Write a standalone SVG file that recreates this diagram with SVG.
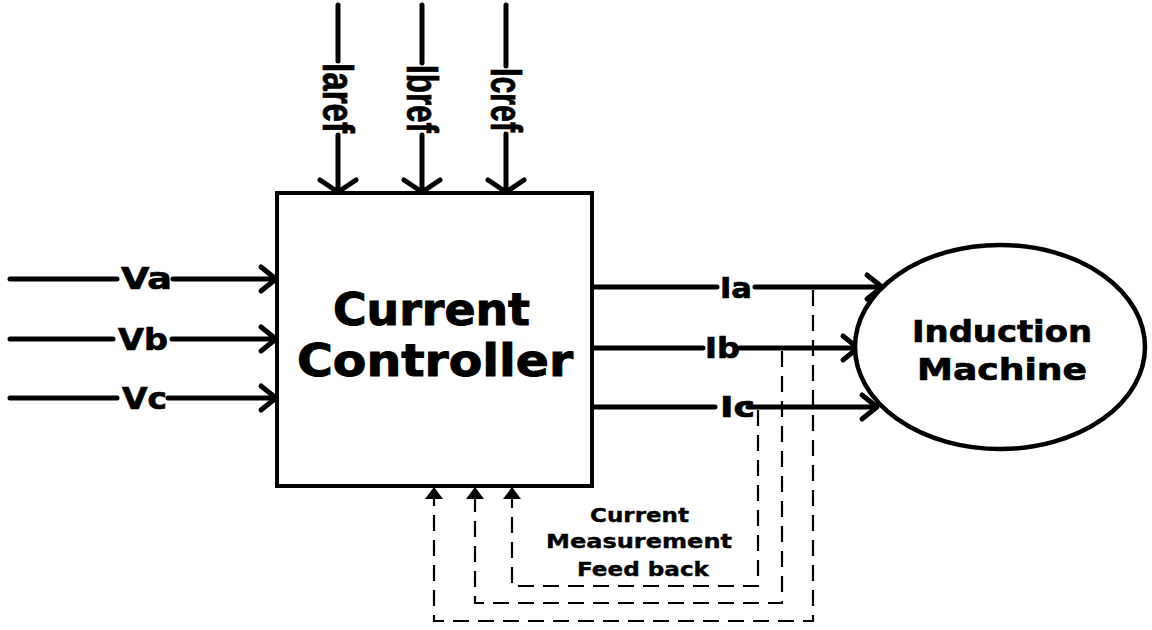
<svg xmlns="http://www.w3.org/2000/svg" xmlns:xlink="http://www.w3.org/1999/xlink" width="1152" height="630" viewBox="0 0 1152 630">
<style>
.ln{stroke:#000;stroke-width:5;stroke-linecap:round;fill:none}
.ch{stroke:#000;stroke-width:5;stroke-linecap:round;stroke-linejoin:round;fill:none}
.ds{stroke:#000;stroke-width:2.2;stroke-dasharray:16 9;fill:none}
.t{font-family:"DejaVu Sans","Verdana",sans-serif;font-weight:bold;fill:#000;stroke:#000;stroke-width:0.7}
.tv{font-family:"Liberation Sans","Arial",sans-serif;font-weight:bold;fill:#000;stroke:#000;stroke-width:0.8}
</style>
<defs>
<path id="chevH" d="M-15,-12 L0,0 L-15,12"/>
<path id="chevV" d="M-18,-12 L0,0 L18,-12"/>
<path id="triUp" d="M0,0 L9,12 L-9,12 Z"/>
</defs>
<rect width="1152" height="630" fill="#fff"/>

<g id="connectors">
  <!-- top reference inputs -->
  <path class="ln" d="M338,5 V61 M338,135 V191"/>
  <path class="ln" d="M422,5 V63 M422,135 V191"/>
  <path class="ln" d="M506,5 V66 M506,134 V191"/>
  <use href="#chevV" class="ch" x="338" y="192"/>
  <use href="#chevV" class="ch" x="422" y="192"/>
  <use href="#chevV" class="ch" x="506" y="192"/>
  <!-- voltage inputs -->
  <path class="ln" d="M10,279 H117 M173,279 H275"/>
  <path class="ln" d="M10,339 H113 M172,339 H275"/>
  <path class="ln" d="M10,398 H117 M168,398 H275"/>
  <use href="#chevH" class="ch" x="276" y="279"/>
  <use href="#chevH" class="ch" x="276" y="339"/>
  <use href="#chevH" class="ch" x="276" y="398"/>
  <!-- current outputs -->
  <path class="ln" d="M594,287 H717 M755,287 H881"/>
  <path class="ln" d="M594,348 H703 M740,348 H857"/>
  <path class="ln" d="M594,407 H715 M748,407 H876"/>
  <use href="#chevH" class="ch" x="882" y="287"/>
  <use href="#chevH" class="ch" x="858" y="348"/>
  <use href="#chevH" class="ch" x="877" y="407"/>
  <!-- feedback -->
  <path class="ds" d="M813,290 V621 H434 V499"/>
  <path class="ds" d="M782,351 V603 H475 V499"/>
  <path class="ds" d="M758,410 V586 H512 V499"/>
  <use href="#triUp" x="434" y="487"/>
  <use href="#triUp" x="475" y="487"/>
  <use href="#triUp" x="512" y="487"/>
</g>

<g id="labels">
  <text class="tv" font-size="44" textLength="70" lengthAdjust="spacingAndGlyphs" transform="translate(323,63) rotate(90)">Iaref</text>
  <text class="tv" font-size="44" textLength="68" lengthAdjust="spacingAndGlyphs" transform="translate(407,65) rotate(90)">Ibref</text>
  <text class="tv" font-size="44" textLength="64" lengthAdjust="spacingAndGlyphs" transform="translate(491,68) rotate(90)">Icref</text>
  <text class="t" x="121" y="289" font-size="30" textLength="51" lengthAdjust="spacingAndGlyphs">Va</text>
  <text class="t" x="118" y="350" font-size="30" textLength="50" lengthAdjust="spacingAndGlyphs">Vb</text>
  <text class="t" x="122" y="409" font-size="30" textLength="45" lengthAdjust="spacingAndGlyphs">Vc</text>
  <text class="t" x="720" y="298" font-size="29" textLength="32" lengthAdjust="spacingAndGlyphs">Ia</text>
  <text class="t" x="705" y="358" font-size="29" textLength="35" lengthAdjust="spacingAndGlyphs">Ib</text>
  <text class="t" x="720" y="417" font-size="29" textLength="35" lengthAdjust="spacingAndGlyphs">Ic</text>
  <text class="t" x="590" y="522" font-size="20" textLength="99" lengthAdjust="spacingAndGlyphs" style="stroke-width:0.4">Current</text>
  <text class="t" x="546" y="548" font-size="20" textLength="186" lengthAdjust="spacingAndGlyphs" style="stroke-width:0.4">Measurement</text>
  <text class="t" x="577" y="576" font-size="20" textLength="132" lengthAdjust="spacingAndGlyphs" style="stroke-width:0.4">Feed back</text>
</g>

<g id="current-controller">
  <rect x="277" y="193" width="315" height="293" fill="#fff" stroke="#000" stroke-width="4"/>
  <text class="t" x="333" y="325" font-size="44" textLength="197" lengthAdjust="spacingAndGlyphs" style="stroke-width:1">Current</text>
  <text class="t" x="297" y="376" font-size="44" textLength="276" lengthAdjust="spacingAndGlyphs" style="stroke-width:1">Controller</text>
</g>

<g id="induction-machine">
  <ellipse cx="1000" cy="347" rx="145" ry="102" fill="#fff" stroke="#000" stroke-width="4.5"/>
  <text class="t" x="912" y="342" font-size="30" textLength="180" lengthAdjust="spacingAndGlyphs">Induction</text>
  <text class="t" x="917" y="380" font-size="30" textLength="170" lengthAdjust="spacingAndGlyphs">Machine</text>
</g>
</svg>
